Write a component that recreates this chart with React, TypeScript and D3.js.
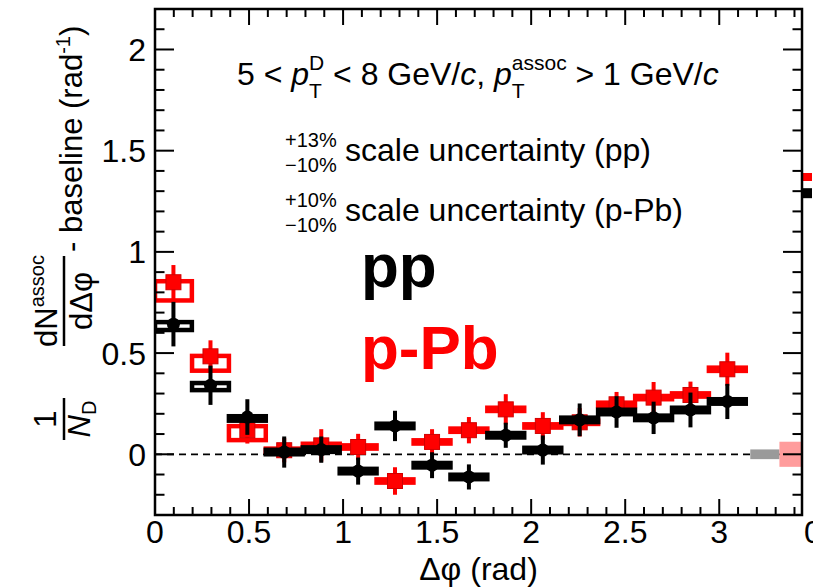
import * as d3 from 'd3'

const W = 813
const H = 587

// bin centres in delta-phi (rad), 16 bins over [0, pi]
const binCenters = [0.098, 0.295, 0.491, 0.687, 0.884, 1.080, 1.276, 1.473, 1.669, 1.865, 2.062, 2.258, 2.454, 2.651, 2.847, 3.043]
const binHalf = 0.098

// pp
const ppValues = [0.643, 0.341, 0.184, 0.011, 0.023, -0.083, 0.140, -0.054, -0.112, 0.094, 0.021, 0.170, 0.209, 0.180, 0.219, 0.261]
const ppStat = [0.110, 0.097, 0.088, 0.077, 0.065, 0.067, 0.075, 0.064, 0.062, 0.062, 0.072, 0.081, 0.078, 0.080, 0.086, 0.087]
const ppSysLow = [0.029, 0.024, 0.018, 0.011, 0.011, 0.011, 0.011, 0.011, 0.011, 0.011, 0.011, 0.011, 0.011, 0.011, 0.011, 0.011]
const ppSysHigh = [0.010, 0.011, 0.004, 0.011, 0.011, 0.011, 0.011, 0.011, 0.011, 0.011, 0.011, 0.011, 0.011, 0.011, 0.011, 0.011]

// p-Pb
const pPbValues = [0.850, 0.484, 0.119, 0.020, 0.044, 0.036, -0.132, 0.061, 0.119, 0.222, 0.140, 0.158, 0.247, 0.280, 0.293, 0.420]
const pPbStat = [0.085, 0.079, 0.066, 0.060, 0.080, 0.065, 0.068, 0.063, 0.065, 0.075, 0.068, 0.070, 0.061, 0.077, 0.066, 0.082]
const pPbSysLow = [0.090, 0.071, 0.049, 0.008, 0.008, 0.008, 0.008, 0.008, 0.008, 0.008, 0.008, 0.008, 0.008, 0.008, 0.008, 0.008]
const pPbSysHigh = [0.005, 0.002, 0.020, 0.008, 0.008, 0.008, 0.008, 0.008, 0.008, 0.008, 0.008, 0.008, 0.008, 0.008, 0.008, 0.008]

// scale-uncertainty boxes drawn at the right (pp, p-Pb)
const scaleBoxX0 = [3.165, 3.32]
const scaleBoxX1 = [3.32, 3.46]
const scaleBoxLow = [-0.024, -0.062]
const scaleBoxHigh = [0.024, 0.062]
const scaleBoxColors = ['#9a9a9a', '#ff9c9c']

// first points of the neighbouring panel, cut off at the right edge
const nextPanelPP = 1.29
const nextPanelPPb = 1.37

const xTicks = [0, 0.5, 1, 1.5, 2, 2.5, 3]
const yTicks = [0, 0.5, 1, 1.5, 2]

const FONT = 'Liberation Sans, Arial, Helvetica, sans-serif'
const RED = '#ff0000'

export default function App() {
  const L = 155, R = 802, T = 9, B = 515
  const x = d3.scaleLinear().domain([0, 3.44]).range([L, R])
  const y = d3.scaleLinear().domain([-0.3, 2.2]).range([B, T])

  const xMinor = d3.range(0, 3.44, 0.1)
  const yMinor = d3.range(-0.3, 2.2001, 0.1)

  const series = [
    { vals: pPbValues, stat: pPbStat, lo: pPbSysLow, hi: pPbSysHigh, color: RED, marker: 'square' },
    { vals: ppValues, stat: ppStat, lo: ppSysLow, hi: ppSysHigh, color: '#000', marker: 'circle' },
  ]

  return (
    <svg width={W} height={H} style={{ position: 'absolute', left: 0, top: 0, background: '#fff' }}
      fontFamily={FONT}>
      <defs>
        <clipPath id="plot"><rect x={L} y={T} width={R - L} height={B - T} /></clipPath>
      </defs>
      <rect width={W} height={H} fill="#fff" />

      <g clipPath="url(#plot)">
        <line x1={x(0)} x2={R} y1={y(0)} y2={y(0)} stroke="#000" strokeWidth={1.8} strokeDasharray="7,5" />
        {scaleBoxX0.map((x0, i) => (
          <rect key={i} x={x(x0)} width={x(scaleBoxX1[i]) - x(x0)}
            y={y(scaleBoxHigh[i])} height={y(scaleBoxLow[i]) - y(scaleBoxHigh[i])}
            fill={scaleBoxColors[i]} />
        ))}
        {series.map((s, si) => (
          <g key={si}>
            {binCenters.map((c, i) => (
              <rect key={'b' + i} x={x(c - binHalf)} width={x(c + binHalf) - x(c - binHalf)}
                y={y(s.vals[i] + s.hi[i])} height={y(s.vals[i] - s.lo[i]) - y(s.vals[i] + s.hi[i])}
                fill="none" stroke={s.color} strokeWidth={4.5} />
            ))}
            {binCenters.map((c, i) => (
              <line key={'e' + i} x1={x(c)} x2={x(c)} y1={y(s.vals[i] + s.stat[i])} y2={y(s.vals[i] - s.stat[i])}
                stroke={s.color} strokeWidth={4} />
            ))}
            {binCenters.map((c, i) => s.marker === 'square'
              ? <rect key={'m' + i} x={x(c) - 7.5} y={y(s.vals[i]) - 7.5} width={15} height={15}
                  fill={RED} stroke="#d00000" strokeWidth={1} />
              : <circle key={'m' + i} cx={x(c)} cy={y(s.vals[i])} r={6.5} fill="#000" />)}
          </g>
        ))}
      </g>

      {/* neighbouring panel, only its first bars peek in */}
      <rect x={R} y={y(nextPanelPPb) - 4} width={10} height={8} fill={RED} />
      <rect x={R} y={y(nextPanelPP) - 5} width={10} height={10} fill="#000" />

      {/* frame */}
      <rect x={L} y={T} width={R - L} height={B - T} fill="none" stroke="#000" strokeWidth={2.5} />

      {/* x ticks bottom & top */}
      {xMinor.map((v, i) => {
        const major = xTicks.some(t => Math.abs(t - v) < 1e-6)
        const len = major ? 16 : 8
        return (
          <g key={'xt' + i} stroke="#000" strokeWidth={2}>
            <line x1={x(v)} x2={x(v)} y1={B} y2={B - len} />
            <line x1={x(v)} x2={x(v)} y1={T} y2={T + len} />
          </g>
        )
      })}
      {/* y ticks left & right */}
      {yMinor.map((v, i) => {
        const major = yTicks.some(t => Math.abs(t - v) < 1e-6)
        const len = major ? 19 : 9.5
        return (
          <g key={'yt' + i} stroke="#000" strokeWidth={2}>
            <line x1={L} x2={L + len} y1={y(v)} y2={y(v)} />
            <line x1={R} x2={R - len} y1={y(v)} y2={y(v)} />
          </g>
        )
      })}

      {xTicks.map(t => (
        <text key={'xl' + t} x={x(t)} y={543} fontSize={32} textAnchor="middle">{t}</text>
      ))}
      <text x={813} y={543} fontSize={32} textAnchor="middle">0</text>
      {yTicks.map(t => (
        <text key={'yl' + t} x={146} y={y(t)} dy="0.36em" fontSize={32} textAnchor="end">{t}</text>
      ))}

      <text x={(L + R) / 2} y={580} fontSize={32} textAnchor="middle">Δφ (rad)</text>

      {/* y axis title */}
      <text transform="translate(82,252) rotate(-90)" fontSize={31}>
        - baseline (rad<tspan fontSize={20} dy={-12}>-1</tspan><tspan dy={12}>)</tspan>
      </text>
      <text transform="translate(57,301) rotate(-90)" fontSize={31} textAnchor="middle">
        dN<tspan fontSize={20} dy={-13}>assoc</tspan>
      </text>
      <line x1={64} x2={64} y1={256} y2={346} stroke="#000" strokeWidth={2.5} />
      <text transform="translate(92,301) rotate(-90)" fontSize={31} textAnchor="middle">dΔφ</text>
      <text transform="translate(56,419) rotate(-90)" fontSize={31} textAnchor="middle">1</text>
      <line x1={64} x2={64} y1={398} y2={440} stroke="#000" strokeWidth={2.5} />
      <text transform="translate(90,419) rotate(-90)" fontSize={31} textAnchor="middle">
        <tspan fontStyle="italic">N</tspan><tspan fontSize={20} dy={6}>D</tspan>
      </text>

      {/* kinematic range */}
      <text x={237} y={85} fontSize={32}>
        5 &lt; <tspan fontStyle="italic">p</tspan>
        <tspan fontSize={21} dy={-15}>D</tspan>
        <tspan fontSize={21} dx={-15.2} dy={28}>T</tspan>
        <tspan dx={2.3} dy={-13}> &lt; 8 GeV/</tspan><tspan fontStyle="italic">c</tspan>, <tspan fontStyle="italic">p</tspan>
        <tspan fontSize={21} dy={-15}>assoc</tspan>
        <tspan fontSize={21} dx={-54.9} dy={28}>T</tspan>
        <tspan dx={42} dy={-13}> &gt; 1 GeV/</tspan><tspan fontStyle="italic">c</tspan>
      </text>

      <text x={285} y={147} fontSize={20}>+13%</text>
      <text x={285} y={172} fontSize={20}>−10%</text>
      <text x={345} y={161} fontSize={32}>scale uncertainty (pp)</text>
      <text x={285} y={207} fontSize={20}>+10%</text>
      <text x={285} y={232} fontSize={20}>−10%</text>
      <text x={345} y={221} fontSize={32}>scale uncertainty (p-Pb)</text>

      <text x={361} y={287} fontSize={62} fontWeight="bold">pp</text>
      <text x={361} y={369} fontSize={62} fontWeight="bold" fill={RED}>p-Pb</text>
    </svg>
  )
}
